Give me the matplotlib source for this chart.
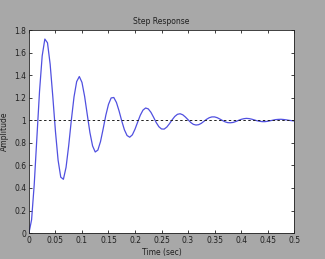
import matplotlib
matplotlib.use('Agg')
import matplotlib.pyplot as plt
import numpy as np

# step response, one value every 5 ms from 0 to 0.5 s
dt = 0.005
amplitude = [
    0.000, 0.118, 0.431, 0.846, 1.258, 1.571, 1.720, 1.687, 1.498, 1.211,
    0.902, 0.646, 0.496, 0.477, 0.583, 0.776, 1.003, 1.207, 1.343, 1.388,
    1.336, 1.212, 1.050, 0.891, 0.773, 0.719, 0.736, 0.812, 0.925, 1.045,
    1.141, 1.198, 1.202, 1.158, 1.082, 0.994, 0.916, 0.865, 0.850, 0.871,
    0.921, 0.984, 1.045, 1.090, 1.109, 1.101, 1.071, 1.027, 0.980, 0.943,
    0.923, 0.922, 0.940, 0.970, 1.004, 1.034, 1.053, 1.058, 1.049, 1.029,
    1.005, 0.981, 0.964, 0.958, 0.961, 0.973, 0.991, 1.009, 1.023, 1.030,
    1.030, 1.023, 1.011, 0.998, 0.986, 0.979, 0.978, 0.981, 0.989, 0.999,
    1.008, 1.014, 1.017, 1.015, 1.010, 1.003, 0.996, 0.991, 0.988, 0.988,
    0.991, 0.996, 1.001, 1.006, 1.008, 1.009, 1.007, 1.004, 1.000, 0.997,
    0.994,
]
final_value = 1.0
xticks = [0, 0.05, 0.1, 0.15, 0.2, 0.25, 0.3, 0.35, 0.4, 0.45, 0.5]
xticklabels = ['0', '0.05', '0.1', '0.15', '0.2', '0.25', '0.3', '0.35', '0.4', '0.45', '0.5']
yticks = [0, 0.2, 0.4, 0.6, 0.8, 1, 1.2, 1.4, 1.6, 1.8]
yticklabels = ['0', '0.2', '0.4', '0.6', '0.8', '1', '1.2', '1.4', '1.6', '1.8']

t = np.arange(len(amplitude)) * dt

fig = plt.figure(figsize=(3.25, 2.59), dpi=100, facecolor='#a8a8a8')
ax = fig.add_axes([0.089, 0.100, 0.816, 0.784])

ax.plot(t, amplitude, color='#5050e0', lw=0.9, solid_joinstyle='round')
ax.axhline(final_value, color='#202020', ls=(0, (2.5, 2.5)), lw=0.7)

ax.set_xlim(0, 0.5)
ax.set_ylim(0, 1.8)
ax.set_xticks(xticks)
ax.set_xticklabels(xticklabels)
ax.set_yticks(yticks)
ax.set_yticklabels(yticklabels)
ax.tick_params(direction='in', top=True, right=True, length=2.5, width=0.6,
               labelsize=5.5, pad=2, colors='#202020')
for s in ax.spines.values():
    s.set_linewidth(0.6)
    s.set_color('#202020')

ax.set_title('Step Response', fontsize=5.5, pad=4, color='#202020')
ax.set_xlabel('Time (sec)', fontsize=5.5, labelpad=2, color='#202020')
ax.set_ylabel('Amplitude', fontsize=5.5, color='#202020')
ax.yaxis.set_label_coords(-0.075, 0.5)

fig.savefig('out.png', dpi=100, facecolor=fig.get_facecolor())
